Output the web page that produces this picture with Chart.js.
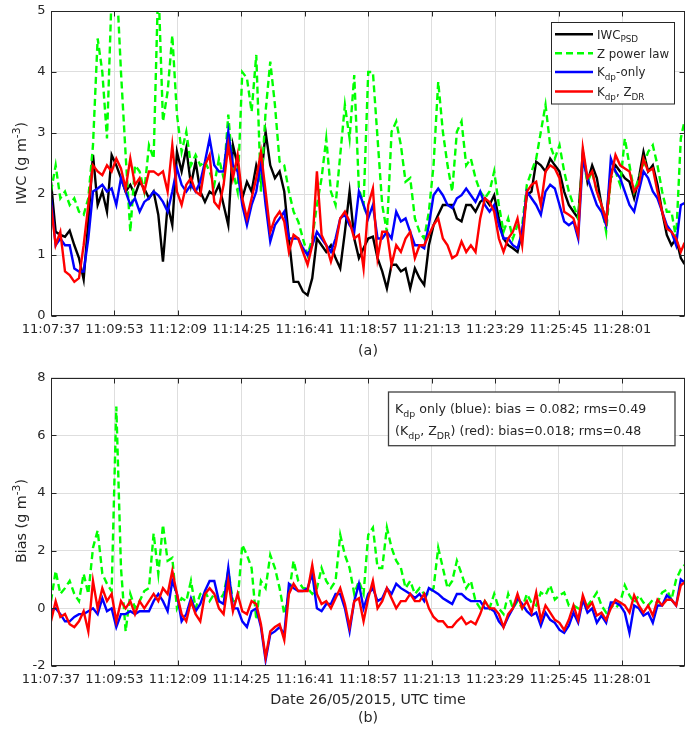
<!DOCTYPE html>
<html>
<head>
<meta charset="utf-8">
<script src="https://cdn.jsdelivr.net/npm/chart.js@4.4.1/dist/chart.umd.min.js"></script>
<style>
body { margin: 0; background: #fff; }
#wrap { position: relative; width: 694px; height: 731px; }
.box { position: absolute; left: 0; width: 694px; }
#boxA { top: 0; height: 365px; }
#boxB { top: 365px; height: 366px; }
</style>
</head>
<body>
<div id="wrap">
  <div class="box" id="boxA"><canvas id="iwcChart"></canvas></div>
  <div class="box" id="boxB"><canvas id="biasChart"></canvas></div>
</div>
<script>
// seconds after 11:07:37
const secs = [0,10,20,30,40,50,60,70,80,90,100,110,120,130,140,150,160,170,180,190,
  200,210,220,230,240,250,260,270,280,290,300,310,320,330,340,350,360,370,380,390,
  400,410,420,430,440,450,460,470,480,490,500,510,520,530,540,550,560,570,580,590,
  600,610,620,630,640,650,660,670,680,690,700,710,720,730,740,750,760,770,780,790,
  800,810,820,830,840,850,860,870,880,890,900,910,920,930,940,950,960,970,980,990,
  1000,1010,1020,1030,1040,1050,1060,1070,1080,1090,1100,1110,1120,1130,1140,1150,
  1160,1170,1180,1190,1200,1210,1220,1230,1240,1250,1260,1270,1280,1290,1300,1310,
  1320,1330,1340,1350,1358]

const tickSecs = [0,136,272,408,544,680,816,952,1088,1224]
const tickLabels = ['11:07:37','11:09:53','11:12:09','11:14:25','11:16:41',
  '11:18:57','11:21:13','11:23:29','11:25:45','11:28:01']
const iwcTicks = [0,1,2,3,4,5]
const biasTicks = [-2,0,2,4,6,8]

//panel (a): IWC
const iwcPsd = [2.2,1.38,1.33,1.3,1.4,1.16,0.95,0.6,1.55,2.64,1.82,2.04,1.71,2.64,2.47,2.26,2.04,2.15,1.98,2.2,
  2.09,1.93,2.04,1.66,0.89,1.82,1.49,2.69,2.37,2.75,2.15,2.53,2.04,1.87,2.04,
  1.98,2.15,1.82,1.49,2.8,2.47,1.93,2.2,2.04,2.47,2.2,3.02,2.47,2.26,2.37,2.04,1.27,0.56,0.56,0.4,
  0.34,0.62,1.27,1.16,1.05,1.16,0.95,0.78,1.38,2.04,1.27,0.95,1.11,1.27,
  1.3,0.95,0.73,0.45,0.84,0.84,0.73,0.78,0.45,0.78,0.62,0.51,1.16,1.49,1.66,1.82,1.82,1.82,1.6,1.55,
  1.82,1.82,1.71,1.87,1.93,1.82,1.98,1.6,1.27,1.16,1.11,1.05,1.38,1.98,
  2.04,2.53,2.47,2.37,2.58,2.47,2.37,2.04,1.82,1.71,1.6,2.69,2.2,2.47,2.26,1.82,1.55,2.37,2.47,2.37,
  2.26,2.2,1.93,2.26,2.69,2.37,2.47,2.15,1.71,1.33,1.16,1.27,0.95,0.85]
const iwcZ = [2.04,2.47,1.93,2.04,1.82,1.93,1.71,1.66,1.93,2.8,4.55,4.0,2.91,5.3,5.6,4.0,2.64,1.38,2.47,2.37,
  2.04,2.8,2.58,5.5,3.19,3.68,4.6,3.3,2.69,3.02,2.47,2.64,2.47,2.53,2.37,
  2.15,2.58,2.26,3.3,2.37,2.04,4.0,3.9,3.35,4.28,2.04,3.35,4.17,3.46,2.53,2.47,2.04,1.71,1.55,1.27,
  1.0,1.27,1.82,2.26,2.91,2.04,1.82,2.64,3.46,2.91,3.95,2.09,1.82,4.0,
  4.0,2.91,1.82,1.38,3.02,3.19,2.8,2.2,2.26,1.6,1.38,1.27,1.71,2.47,3.84,3.02,2.47,2.04,3.02,3.19,
  2.47,2.58,2.26,2.04,1.93,2.04,2.37,1.82,1.38,1.6,1.27,1.49,1.49,2.15,
  2.37,2.58,3.02,3.46,2.8,2.58,2.8,2.37,2.04,1.82,1.6,2.58,2.2,2.37,2.04,1.82,1.38,2.26,2.37,2.15,
  2.91,2.47,2.04,2.26,2.47,2.69,2.8,2.47,2.04,1.71,1.71,1.27,2.91,3.2]
const iwcKdp = [1.93,1.16,1.27,1.16,1.16,0.78,0.73,0.73,1.27,2.04,2.09,2.15,2.04,2.09,1.82,2.26,2.04,1.82,1.93,1.71,
  1.87,1.93,2.04,1.98,1.87,1.71,2.04,2.42,2.15,2.04,2.15,2.04,2.2,2.53,2.91,
  2.47,2.37,2.37,3.02,2.47,2.37,1.82,1.49,1.82,2.04,2.53,1.82,1.22,1.49,1.6,1.71,1.27,1.27,1.27,1.11,
  1.0,1.16,1.38,1.27,1.16,1.05,1.27,1.6,1.66,1.49,1.38,2.04,1.82,1.6,
  1.82,1.27,1.27,1.38,1.27,1.71,1.55,1.6,1.38,1.16,1.16,1.11,1.49,1.98,2.09,1.98,1.82,1.77,1.93,1.98,
  2.09,1.98,1.87,2.04,1.82,1.71,1.82,1.49,1.27,1.27,1.16,1.11,1.38,2.04,
  1.93,1.82,1.66,2.04,2.15,2.09,1.82,1.55,1.49,1.55,1.27,2.58,2.26,2.04,1.82,1.71,1.49,2.58,2.37,2.26,
  2.04,1.82,1.71,2.04,2.37,2.26,2.04,1.93,1.71,1.49,1.38,1.16,1.82,1.85]
const iwcKdpZdr = [1.82,1.16,1.38,0.73,0.67,0.56,0.62,1.16,1.82,2.47,2.37,2.31,2.47,2.37,2.58,2.42,2.09,2.58,2.15,2.26,
  2.04,2.37,2.37,2.31,2.37,2.04,2.8,2.04,1.82,2.15,2.26,2.04,1.98,2.47,2.64,
  1.87,1.77,2.15,2.8,2.26,2.64,1.93,1.6,1.93,2.26,2.69,2.04,1.38,1.6,1.71,1.55,1.05,1.33,1.27,1.05,
  0.84,1.16,2.37,1.33,1.16,0.89,1.16,1.6,1.71,1.55,1.27,1.33,0.78,1.82,
  2.09,0.95,1.38,1.38,0.84,1.16,1.05,1.27,1.38,0.95,1.16,1.16,1.33,1.49,1.6,1.27,1.16,0.95,1.0,1.22,
  1.05,1.16,1.05,1.6,1.93,1.87,1.71,1.27,1.05,1.27,1.38,1.6,1.16,2.04,
  2.15,2.2,1.82,2.37,2.47,2.42,2.26,1.71,1.66,1.6,1.33,2.75,2.26,2.37,2.04,1.82,1.55,2.26,2.64,2.47,
  2.42,2.37,2.04,2.15,2.58,2.37,2.42,2.04,1.71,1.43,1.38,1.27,1.05,1.2]

//panel (b): bias
const biasZ = [0.25,1.3,0.5,0.7,0.95,0.5,0.25,1.2,0.5,2.1,2.7,1.2,0.85,0.6,7.0,1.4,-0.8,0.5,0.02,0.25,
  0.6,0.7,2.6,1.2,2.9,1.65,1.75,0,0.35,0.25,0.95,0,0.5,0.6,0.25,
  0.5,0.25,0.5,1.3,0.25,0.25,2.2,1.85,1.4,-0.4,0.95,0.7,1.85,1.4,0.7,-0.2,0.5,1.65,0.95,0.7,
  0.7,0.5,0.7,1.4,0.95,0.7,0.95,2.55,1.85,1.4,0.5,0.95,0.5,2.55,
  2.8,1.4,1.4,2.8,2.1,1.65,1.4,0.7,0.95,0.5,0.7,0.5,0.5,0.7,2.1,1.4,0.7,0.95,1.65,1.2,
  0.7,0.95,0.25,0,0.25,0,0.5,0,-0.2,0.5,0,0.25,0,0.5,
  0.2,0.1,0.55,0.45,0.8,0.3,0.45,0.55,0.1,0.1,0,0.3,0.1,0.3,0.55,0.1,-0.15,0.1,0,0.2,
  0.8,0.45,0.2,0.45,0.2,0.1,0.3,0.2,0.55,0.65,0.3,1.0,1.35,1.5]
const biasKdp = [-0.1,0,-0.2,-0.45,-0.45,-0.3,-0.2,-0.2,-0.1,0,-0.2,0.35,-0.1,0,-0.65,-0.2,-0.2,-0.1,-0.2,-0.1,
  -0.1,-0.1,0.25,0.5,0.25,-0.1,0.95,0.5,-0.45,-0.2,0.35,-0.1,0.15,0.6,0.95,
  0.95,0.25,0.15,1.4,0,0,-0.45,-0.65,-0.1,0,-0.65,-1.8,-0.9,-0.8,-0.65,-0.9,0.85,0.7,0.6,0.6,
  0.7,1.2,0,-0.1,0.15,0.15,0.5,0.5,0,-0.8,0.25,0.85,0,0.5,
  0.7,0.25,0.35,0.7,0.5,0.85,0.7,0.6,0.5,0.35,0.5,0.25,0.7,0.6,0.5,0.35,0.25,0.15,0.5,0.5,
  0.35,0.25,0.25,0.25,0,0,-0.1,-0.45,-0.65,-0.3,0,0.35,0.15,-0.1,
  -0.25,-0.15,-0.6,-0.15,-0.4,-0.5,-0.75,-0.85,-0.6,-0.15,-0.5,0.3,-0.15,0,-0.5,-0.25,-0.5,0.2,0.2,0.1,
  -0.15,-0.85,0.1,0,-0.25,-0.15,-0.5,0.1,0.1,0.45,0.3,0.1,1.0,0.9]
const biasKdpZdr = [-0.45,0.25,-0.3,-0.2,-0.55,-0.65,-0.45,-0.1,-0.8,0.95,0,0.7,0.25,0.5,-0.45,0.25,0,0.25,-0.2,0.25,
  0,0.25,0.5,0.25,0.7,0.5,1.3,0.5,-0.2,-0.45,0.25,-0.2,-0.45,0.5,0.7,
  0.5,0,-0.2,0.95,-0.1,0.5,-0.1,-0.2,0.25,0.15,-0.55,-1.7,-0.8,-0.65,-0.55,-1.1,0.5,0.85,0.6,0.6,
  0.6,1.5,0.5,0.15,0.25,0,0.35,0.7,0.15,-0.65,0.25,0.35,-0.45,0.35,
  0.95,0,0.25,0.7,0.35,0,0.25,0.25,0.5,0.25,0.25,0.5,0,-0.3,-0.45,-0.45,-0.65,-0.65,-0.45,-0.3,
  -0.55,-0.45,-0.55,-0.2,0.25,0,0,-0.2,-0.65,-0.2,0,0.5,0,0.25,
  -0.15,0.55,-0.4,0.1,-0.15,-0.4,-0.5,-0.75,-0.4,0.1,-0.4,0.45,0,0.2,-0.25,-0.15,-0.4,0,0.3,0.2,
  0.1,-0.15,0.45,0.1,-0.15,0.1,-0.25,0.3,0.1,0.3,0.3,0.1,0.8,0.9]

const FONT = '"DejaVu Sans", sans-serif'
const INK = '#262626'
const GREEN = '#00ff00'
const pts = arr => arr.map((v, i) => ({ x: secs[i], y: v }))

function line(label, data, color, order, dashed) {
    return {
        label: label,
        data: pts(data),
        borderColor: color,
        borderWidth: 2.4,
        borderDash: dashed ? [7, 4] : [],
        pointRadius: 0,
        tension: 0,
        order: order
    }
}

// text with sub/superscripts, y = baseline
function rich(ctx, parts, x, y, size, align) {
    const small = size * 0.75
    let w = 0
    parts.forEach(p => {
        ctx.font = (p[1] ? small : size) + 'px ' + FONT
        w += ctx.measureText(p[0]).width
    })
    let cx = align === 'center' ? x - w / 2 : x
    ctx.textAlign = 'left'
    ctx.textBaseline = 'alphabetic'
    parts.forEach(p => {
        ctx.font = (p[1] ? small : size) + 'px ' + FONT
        let dy = 0
        if (p[1] === 'sub') dy = size * 0.32
        if (p[1] === 'sup') dy = -size * 0.42
        ctx.fillText(p[0], cx, y + dy)
        cx += ctx.measureText(p[0]).width
    })
}

function frame(chart, yTicks) {
    const { ctx, chartArea: a, scales } = chart
    const L = Math.round(a.left) + 0.5, R = Math.round(a.right) - 0.5
    const T = Math.round(a.top) + 0.5, B = Math.round(a.bottom) - 0.5
    ctx.save()
    ctx.strokeStyle = INK
    ctx.lineWidth = 1
    ctx.strokeRect(L, T, R - L, B - T)
    ctx.beginPath()
    tickSecs.forEach(v => {
        const px = Math.round(scales.x.getPixelForValue(v)) + 0.5
        ctx.moveTo(px, B); ctx.lineTo(px, B - 5)
        ctx.moveTo(px, T); ctx.lineTo(px, T + 5)
    })
    yTicks.forEach(v => {
        const py = Math.round(scales.y.getPixelForValue(v)) + 0.5
        ctx.moveTo(L, py); ctx.lineTo(L + 5, py)
        ctx.moveTo(R, py); ctx.lineTo(R - 5, py)
    })
    ctx.stroke()
    ctx.fillStyle = INK
    ctx.font = '13px ' + FONT
    ctx.textAlign = 'center'
    ctx.textBaseline = 'middle'
    tickSecs.forEach((v, i) => {
        ctx.fillText(tickLabels[i], scales.x.getPixelForValue(v), B + 14)
    })
    ctx.textAlign = 'right'
    yTicks.forEach(v => {
        ctx.fillText(String(v), L - 6, scales.y.getPixelForValue(v))
    })
    ctx.restore()
}

function yTitle(ctx, parts, x, y) {
    ctx.save()
    ctx.translate(x, y)
    ctx.rotate(-Math.PI / 2)
    ctx.fillStyle = INK
    rich(ctx, parts, 0, 5, 14.3, 'center')
    ctx.restore()
}

function options(yMin, yMax, yTicks, xHeight, topPad) {
    return {
        responsive: true,
        maintainAspectRatio: false,
        animation: false,
        layout: { padding: { left: 0, right: 9, top: topPad, bottom: 0 } },
        plugins: { legend: { display: false }, tooltip: { enabled: false } },
        scales: {
            x: {
                type: 'linear', min: 0, max: 1359,
                afterBuildTicks: s => { s.ticks = tickSecs.map(v => ({ value: v })) },
                afterFit: s => { s.height = xHeight },
                ticks: { display: false },
                grid: { color: '#dedede', drawTicks: false },
                border: { display: false }
            },
            y: {
                min: yMin, max: yMax,
                afterBuildTicks: s => { s.ticks = yTicks.map(v => ({ value: v })) },
                afterFit: s => { s.width = 51 },
                ticks: { display: false },
                grid: { color: '#dedede', drawTicks: false },
                border: { display: false }
            }
        }
    }
}

const iwcExtras = {
    id: 'iwcExtras',
    afterDraw(chart) {
        const ctx = chart.ctx
        frame(chart, iwcTicks)
        yTitle(ctx, [['IWC (g m'], ['-3', 'sup'], [')']], 21, 163)
        ctx.save()
        ctx.fillStyle = INK
        rich(ctx, [['(a)']], 368, 355, 14.3, 'center')
        // legend
        ctx.fillStyle = '#fff'
        ctx.fillRect(551, 22.5, 123, 81.5)
        ctx.strokeStyle = INK
        ctx.lineWidth = 1
        ctx.strokeRect(551.5, 22.5, 123, 81.5)
        const rows = [
            { y: 34.3, color: '#000', dash: [], parts: [['IWC'], ['PSD', 'sub']] },
            { y: 53.3, color: GREEN, dash: [7, 4], parts: [['Z power law']] },
            { y: 72, color: '#0000ff', dash: [], parts: [['K'], ['dp', 'sub'], ['-only']] },
            { y: 91.5, color: '#ff0000', dash: [], parts: [['K'], ['dp', 'sub'], [', Z'], ['DR', 'sub']] }
        ]
        rows.forEach(r => {
            ctx.strokeStyle = r.color
            ctx.lineWidth = 2.4
            ctx.setLineDash(r.dash)
            ctx.beginPath()
            ctx.moveTo(555, r.y); ctx.lineTo(593, r.y)
            ctx.stroke()
            ctx.setLineDash([])
            ctx.fillStyle = INK
            rich(ctx, r.parts, 597, r.y + 4.3, 11.8, 'left')
        })
        ctx.restore()
    }
}

const biasExtras = {
    id: 'biasExtras',
    afterDraw(chart) {
        const ctx = chart.ctx
        frame(chart, biasTicks)
        yTitle(ctx, [['Bias (g m'], ['-3', 'sup'], [')']], 21, 156)
        ctx.save()
        ctx.fillStyle = INK
        rich(ctx, [['Date 26/05/2015, UTC time']], 368, 339, 14.3, 'center')
        rich(ctx, [['(b)']], 368, 357, 14.3, 'center')
        ctx.fillStyle = '#fff'
        ctx.fillRect(388.5, 27, 286.5, 53.7)
        ctx.strokeStyle = '#404040'
        ctx.lineWidth = 1.3
        ctx.strokeRect(388.5, 27, 286.5, 53.7)
        ctx.fillStyle = INK
        rich(ctx, [['K'], ['dp', 'sub'], [' only (blue): bias = 0.082; rms=0.49']], 395, 47.5, 12.6, 'left')
        rich(ctx, [['(K'], ['dp', 'sub'], [', Z'], ['DR', 'sub'], [') (red): bias=0.018; rms=0.48']], 395, 70, 12.6, 'left')
        ctx.restore()
    }
}

const iwcChart = new Chart(document.getElementById('iwcChart'), {
    type: 'line',
    data: {
        datasets: [
            line('IWC PSD', iwcPsd, '#000000', 3, false),
            line('Z power law', iwcZ, GREEN, 2, true),
            line('Kdp-only', iwcKdp, '#0000ff', 1, false),
            line('Kdp, ZDR', iwcKdpZdr, '#ff0000', 0, false)
        ]
    },
    options: options(0, 5, iwcTicks, 49, 11),
    plugins: [iwcExtras]
})

const biasChart = new Chart(document.getElementById('biasChart'), {
    type: 'line',
    data: {
        datasets: [
            line('Z power law', biasZ, GREEN, 2, true),
            line('Kdp only', biasKdp, '#0000ff', 1, false),
            line('Kdp, ZDR', biasKdpZdr, '#ff0000', 0, false)
        ]
    },
    options: options(-2, 8, biasTicks, 65, 12.7),
    plugins: [biasExtras]
})
</script>
</body>
</html>
